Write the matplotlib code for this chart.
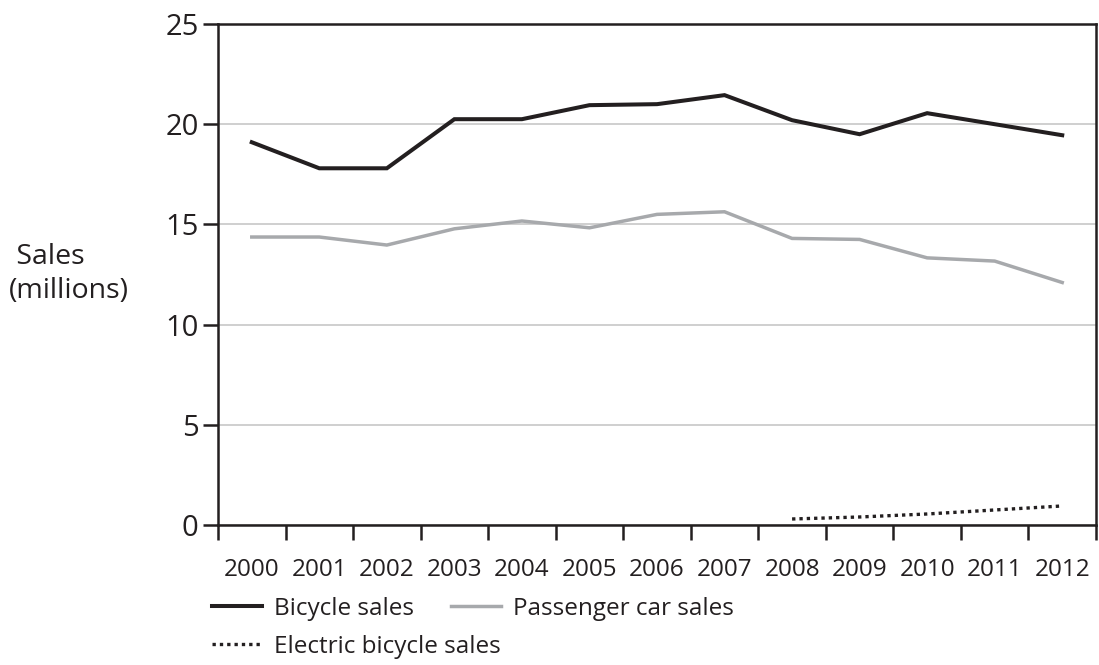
import matplotlib
matplotlib.use('Agg')
import matplotlib.pyplot as plt
import numpy as np

# datos
years = ['2000', '2001', '2002', '2003', '2004', '2005', '2006',
         '2007', '2008', '2009', '2010', '2011', '2012']
bicycle = [19.1, 17.8, 17.8, 20.25, 20.25, 20.95, 21.0, 21.45, 20.2, 19.5, 20.55, 20.0, 19.45]
car = [14.37, 14.37, 13.97, 14.78, 15.17, 14.83, 15.5, 15.63, 14.3, 14.25, 13.33, 13.17, 12.1]
electric_years = ['2008', '2009', '2010', '2011', '2012']
electric = [0.3, 0.4, 0.55, 0.75, 0.95]

plt.rcParams['font.family'] = ['Open Sans', 'DejaVu Sans']
ink = '#231f20'
plt.rcParams['text.color'] = ink

fig = plt.figure(figsize=(10.99, 6.65), dpi=100)
ax = fig.add_axes([218 / 1099, 1 - 525 / 665, (1096 - 218) / 1099, (525 - 24) / 665])

x = np.arange(len(years))
xe = [years.index(y) for y in electric_years]

l1, = ax.plot(x, bicycle, color=ink, lw=2.9, solid_joinstyle='miter', label='Bicycle sales', zorder=3)
l2, = ax.plot(x, car, color='#a7a9ac', lw=2.5, solid_joinstyle='miter', label='Passenger car sales', zorder=3)
l3, = ax.plot(xe, electric, color=ink, lw=2.4, linestyle=(0, (1, 1.2)), dash_capstyle='butt',
              label='Electric bicycle sales', zorder=3)

ax.set_xlim(-0.5, len(years) - 0.5)
ax.set_ylim(0, 25)
ax.set_yticks([0, 5, 10, 15, 20, 25])
ax.yaxis.grid(True, color='#c2c2c2', lw=1.1)
ax.set_axisbelow(True)

# ticks en los limites de cada categoria, etiquetas en el centro
ax.set_xticks(np.arange(-0.5, len(years), 1.0))
ax.set_xticklabels([])
ax.set_xticks(x, minor=True)
ax.set_xticklabels(years, minor=True)
ax.tick_params(axis='x', which='major', direction='out', length=11, width=1.8, color=ink)
ax.tick_params(axis='x', which='minor', length=0, pad=24, labelsize=17.5, labelcolor=ink)
ax.tick_params(axis='y', direction='out', length=11, width=1.8, color=ink, pad=3,
               labelsize=21, labelcolor=ink)

for s in ax.spines.values():
    s.set_color(ink)
    s.set_linewidth(1.8)

fig.text(9 / 1099, 1 - 274 / 665, ' Sales\n(millions)', ha='left', va='center',
         fontsize=20.5, linespacing=1.25)

leg_kw = dict(frameon=False, fontsize=17.5, handlelength=2.06, handletextpad=0.5,
              borderaxespad=0, borderpad=0, loc='center left')
leg1 = fig.legend([l1, l2], [l1.get_label(), l2.get_label()], ncol=2, columnspacing=1.5,
                  bbox_to_anchor=(212 / 1099, 1 - 609 / 665), **leg_kw)
leg2 = fig.legend([l3], [l3.get_label()],
                  bbox_to_anchor=(212 / 1099, 1 - 647 / 665), **leg_kw)

fig.savefig('out.png', dpi=100)
